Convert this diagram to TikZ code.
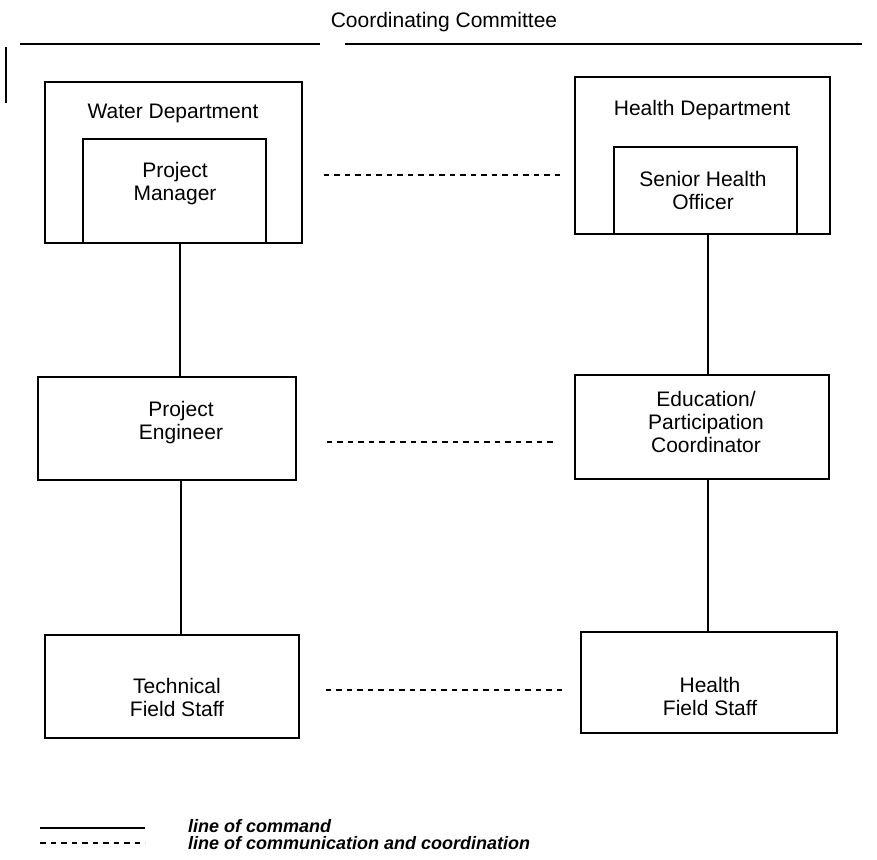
\documentclass[tikz,border=0pt]{standalone}
\usepackage{fontspec}
\setmainfont{Liberation Sans}
\begin{document}
\begin{tikzpicture}[x=1pt,y=-1pt,
  orgbox/.style={draw=black, line width=1.2pt, inner sep=0pt},
  txt/.style={font=\fontsize{21}{23}\selectfont, align=center, inner sep=0pt},
  cmd/.style={line width=1.2pt},
  comm/.style={line width=1.4pt, dash pattern=on 5.5pt off 5pt},
  legendtxt/.style={font=\fontsize{18}{18}\selectfont\bfseries\itshape, anchor=west, inner sep=0pt}]

\useasboundingbox (0,0) rectangle (877,859);

% heading and the remains of the committee frame
\node[txt] (title) at (444,22) {Coordinating Committee};
\draw[cmd] (20,44) -- (320,44);
\draw[cmd] (345,44) -- (862,44);
\draw[cmd] (6,47) -- (6,103);

% water side
\node[orgbox, minimum width=257pt, minimum height=161pt] (wd) at (173.5,162.5) {};
\node[txt] (wdlabel) at (173,113) {Water Department};
\node[orgbox, minimum width=183pt, minimum height=104pt] (pm) at (174.5,191) {};
\node[txt] (pmlabel) at (175,184) {Project\\Manager};

\node[orgbox, minimum width=258pt, minimum height=103pt] (pe) at (167,428.5) {};
\node[txt] (pelabel) at (181,423) {Project\\Engineer};

\node[orgbox, minimum width=254pt, minimum height=103pt] (tfs) at (172,686.5) {};
\node[txt] (tfslabel) at (177,697) {Technical\\Field Staff};

% health side
\node[orgbox, minimum width=255pt, minimum height=157pt] (hd) at (702.5,155.5) {};
\node[txt] (hdlabel) at (702,110) {Health Department};
\node[orgbox, minimum width=183pt, minimum height=87pt] (sho) at (705.5,190.5) {};
\node[txt] (sholabel) at (703,190) {Senior Health\\Officer};

\node[orgbox, minimum width=254pt, minimum height=104pt] (epc) at (702,427) {};
\node[txt] (epclabel) at (706,422) {Education/\\Participation\\Coordinator};

\node[orgbox, minimum width=256pt, minimum height=101pt] (hfs) at (709,682.5) {};
\node[txt] (hfslabel) at (710,696) {Health\\Field Staff};

% lines of command
\draw[cmd] ([xshift=5.5pt]pm.south) -- ([xshift=5.5pt]pm.south |- pe.north);
\draw[cmd] ([xshift=14pt]pe.south) -- ([xshift=14pt]pe.south |- tfs.north);
\draw[cmd] ([xshift=2.5pt]sho.south) -- ([xshift=2.5pt]sho.south |- epc.north);
\draw[cmd] ([xshift=6pt]epc.south) -- ([xshift=6pt]epc.south |- hfs.north);

% lines of communication and coordination
\draw[comm, shorten <=21pt, shorten >=13pt] ([yshift=-12.5pt]wd.east) -- ([yshift=-19.5pt]hd.west);
\draw[comm, shorten <=30pt, shorten >=17pt] ([yshift=-13.5pt]pe.east) -- ([yshift=-15pt]epc.west);
\draw[comm, shorten <=26pt, shorten >=15pt] ([yshift=-3.5pt]tfs.east) -- ([yshift=-7.5pt]hfs.west);

% legend
\coordinate (keycmdA) at (40,828);
\coordinate (keycmdB) at (145,828);
\coordinate (keycommA) at (40,843);
\coordinate (keycommB) at (145,843);
\draw[cmd] (keycmdA) -- (keycmdB);
\draw[comm] (keycommA) -- (keycommB);
\node[legendtxt] (keycmd) at (188,826) {line of command};
\node[legendtxt] (keycomm) at (188,843) {line of communication and coordination};
\end{tikzpicture}
\end{document}
